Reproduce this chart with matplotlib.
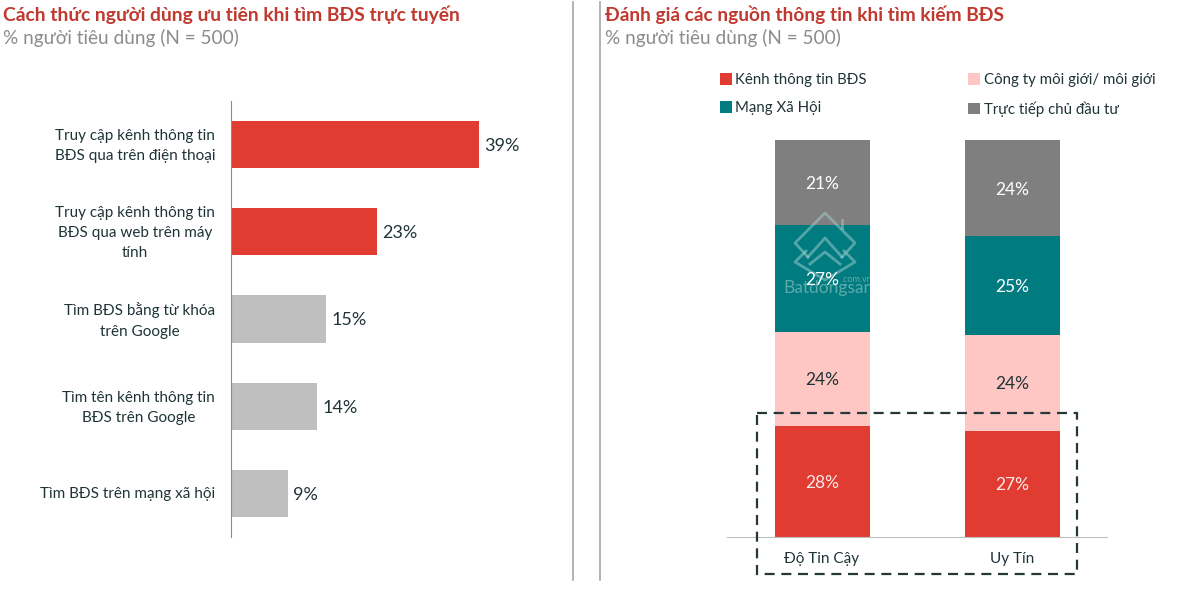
import matplotlib
matplotlib.use('Agg')
import matplotlib.pyplot as plt
from matplotlib.patches import Rectangle
from matplotlib.transforms import ScaledTranslation

plt.rcParams['font.family'] = ['Lato', 'Noto Sans', 'DejaVu Sans']

W, H = 1182, 609

# left chart
channels = [
    'Truy cập kênh thông tin\nBĐS qua trên điện thoại',
    'Truy cập kênh thông tin\nBĐS qua web trên máy\ntính',
    'Tìm BĐS bằng từ khóa\ntrên Google',
    'Tìm tên kênh thông tin\nBĐS trên Google',
    'Tìm BĐS trên mạng xã hội',
]
channel_values = [39, 23, 15, 13.6, 9]
channel_colors = ['#E03C31', '#E03C31', '#BFBFBF', '#BFBFBF', '#BFBFBF']

# right chart, heights (labels round them)
criteria = ['Độ Tin Cậy', 'Uy Tín']
source_names = ['Kênh thông tin BĐS', 'Công ty môi giới/ môi giới', 'Mạng Xã Hội', 'Trực tiếp chủ đầu tư']
source_values = [[28, 26.8], [23.6, 24], [27, 24.9], [21.4, 24.3]]
source_colors = ['#E03C31', '#FFC7C4', '#007C80', '#7F7F7F']
label_colors = ['#FBE9E7', '#1F3437', '#FFFFFF', '#FFFFFF']

TEXT = '#1F3437'
RED_TITLE = '#C0392F'
GREY_SUB = '#8C8C8C'


def px_axes(fig, x0, y0, x1, y1):
    # pixel box, y measured from the top of the image
    return fig.add_axes([x0 / W, 1 - y1 / H, (x1 - x0) / W, (y1 - y0) / H])


fig = plt.figure(figsize=(W / 100, H / 100), dpi=100)

# horizontal bars
ax1 = px_axes(fig, 230.5, 101, 560, 537)
ypos = range(len(channels))
ax1.barh(ypos, channel_values, height=0.54, color=channel_colors)
ax1.set_xlim(0, 329.5 / 6.36)
ax1.set_ylim(4.5, -0.5)
ax1.set_yticks(list(ypos))
ax1.set_yticklabels(channels, fontsize=11, color=TEXT, ha='right', multialignment='center',
                    linespacing=1.55)
ax1.tick_params(axis='y', length=0, pad=11)
# nudge wrapped labels up a little
for lab, name in zip(ax1.get_yticklabels(), channels):
    up = 3 if '\n' in name else 1
    lab.set_transform(lab.get_transform() + ScaledTranslation(0, up / 100, fig.dpi_scale_trans))
ax1.xaxis.set_visible(False)
for s in ['top', 'right', 'bottom']:
    ax1.spines[s].set_visible(False)
ax1.spines['left'].set_color('#8C8C8C')
for y, v in zip(ypos, channel_values):
    ax1.annotate(f'{v:.0f}%', (v, y), xytext=(4, -1), textcoords='offset points',
                 va='center', fontsize=13, color=TEXT)

# stacked columns
ax2 = px_axes(fig, 727, 140, 1107, 537)
bottom = [0, 0]
handles = []
for vals, col, lab_col, name in zip(source_values, source_colors, label_colors, source_names):
    bars = ax2.bar(range(2), vals, width=0.5, bottom=bottom, color=col, label=name)
    handles.append(bars)
    for i, v in enumerate(vals):
        ax2.annotate(f'{v:.0f}%', (i, bottom[i] + v / 2), xytext=(0, -1), textcoords='offset points',
                     ha='center', va='center', fontsize=12.5, color=lab_col)
    bottom = [b + v for b, v in zip(bottom, vals)]
ax2.set_xlim(-0.5, 1.5)
ax2.set_ylim(0, 100)
ax2.set_xticks(range(2))
ax2.set_xticklabels(criteria, fontsize=11, color=TEXT)
ax2.tick_params(axis='x', length=0, pad=11)
ax2.yaxis.set_visible(False)
for s in ['top', 'right', 'left']:
    ax2.spines[s].set_visible(False)
ax2.spines['bottom'].set_color('#BFBFBF')

# column-wise legend fill, so swap to read Kênh/Công ty on the top row
legend_order = [handles[0], handles[2], handles[1], handles[3]]
fig.legend(handles=legend_order, ncol=2, loc='upper left', bbox_to_anchor=(706 / W, 1 - 59.5 / H),
           frameon=False, fontsize=10.8, labelcolor=TEXT, handlelength=0.8, handleheight=0.8,
           handletextpad=0.22, columnspacing=6.8, labelspacing=0.95)

# overlay in image pixels for titles, dividers, dashed box
ov = fig.add_axes([0, 0, 1, 1], zorder=5)
ov.set_xlim(0, W)
ov.set_ylim(H, 0)
ov.axis('off')
ov.patch.set_alpha(0)

ov.text(3, 15, 'Cách thức người dùng ưu tiên khi tìm BĐS trực tuyến', fontsize=13.9,
        fontweight='bold', color=RED_TITLE, va='center')
ov.text(3, 38, '% người tiêu dùng (N = 500)', fontsize=13.7, color=GREY_SUB, va='center')
ov.text(605, 15, 'Đánh giá các nguồn thông tin khi tìm kiếm BĐS', fontsize=13.8,
        fontweight='bold', color=RED_TITLE, va='center')
ov.text(605, 38, '% người tiêu dùng (N = 500)', fontsize=13.7, color=GREY_SUB, va='center')

ov.plot([572.5, 572.5], [2, 580], color='#A6A6A6', lw=1.2)
ov.plot([599.5, 599.5], [2, 580], color='#A6A6A6', lw=1.2)

ov.add_patch(Rectangle((756.5, 412.5), 320, 161, fill=False, ec='#26373A', lw=1.6,
                       ls=(0, (4.5, 3))))

# watermark goes in ax2 so the % labels stay on top of it
wm = dict(color='#A9CFCF', alpha=0.5, lw=2, solid_joinstyle='round', transform=ov.transData,
          clip_on=False, zorder=2.5)
ax2.plot([808, 795, 825, 855, 842], [257, 243, 213, 243, 257], **wm)
ax2.plot([808, 825, 842], [257, 238, 257], **wm)
ax2.plot([842, 842], [220, 228], **wm)
ax2.plot([806, 795, 825, 855, 844], [251, 262, 280, 262, 251], **wm)
ax2.plot([810, 825, 840], [264, 252, 264], **wm)
clip = Rectangle((775, 226), 95, 107, transform=ov.transData)
for s, x, y, size in [('Batdongsan', 783, 288, 12.5), ('.com.vn', 841, 280, 6.5)]:
    t = ax2.text(x, y, s, fontsize=size, color='#A9CFCF', alpha=0.55, va='center',
                 transform=ov.transData, zorder=2.5)
    t.set_clip_path(clip)
    t.set_clip_on(True)

fig.savefig('out.png', dpi=100)
